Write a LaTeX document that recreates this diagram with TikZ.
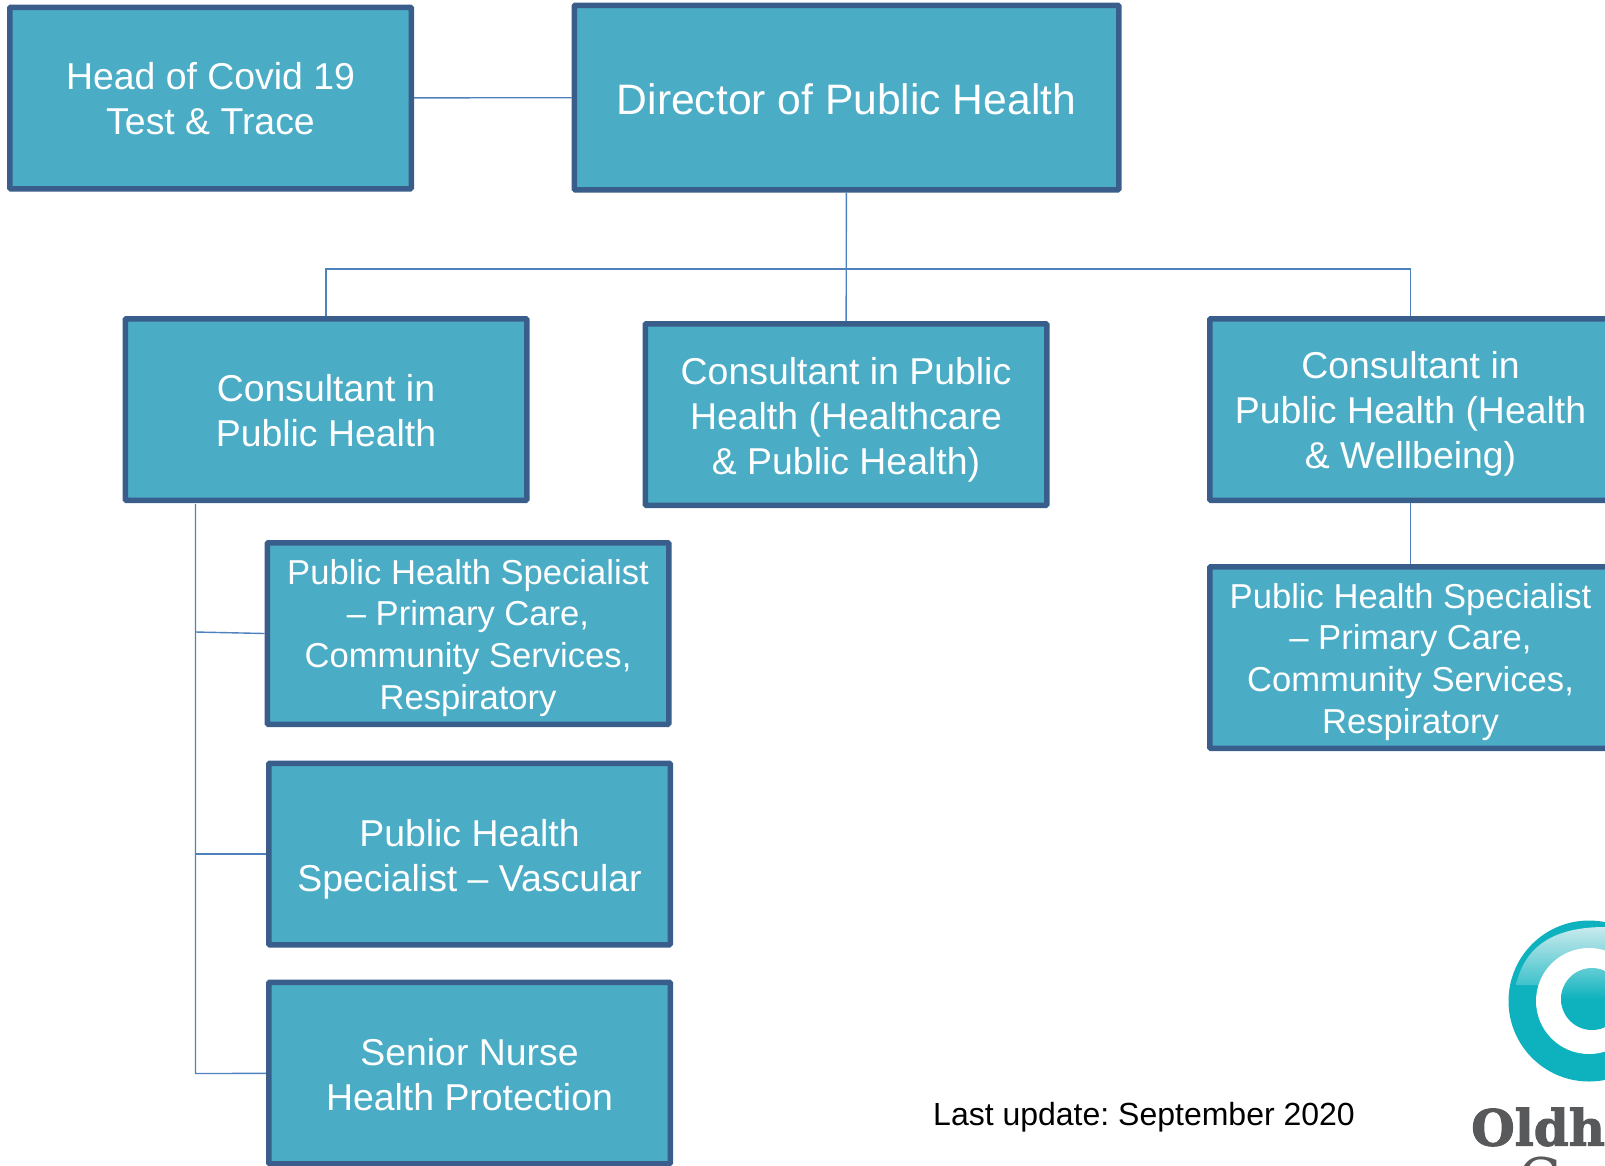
\documentclass[tikz,border=0pt]{standalone}
\usepackage{fontspec}
\setmainfont{Liberation Sans}
\newfontfamily\logofont{DejaVu Serif}
\newfontfamily\logoheavy[FakeBold=2]{DejaVu Serif Bold}
\definecolor{myboxfill}{RGB}{75,172,198}
\definecolor{myboxline}{RGB}{58,94,139}
\definecolor{mylink}{RGB}{79,129,189}
\definecolor{mylogo}{RGB}{14,178,190}
\definecolor{mylogolight}{RGB}{200,234,237}
\definecolor{mylogotext}{RGB}{88,89,91}
\newcommand{\widthbox}{401.5pt}
\newcommand{\heightbox}{181.5pt}
\newcommand{\droptext}[2]{\raisebox{-#1}[\height][\depth]{\begin{tabular}{@{}c@{}}#2\end{tabular}}}
\tikzset{
    common/.style={draw=myboxline, fill=myboxfill, rectangle, line width=5.5pt, rounded corners=1pt,
        text=white, align=center, inner sep=0pt},
    bigbox/.style={common, minimum width=\widthbox, minimum height=\heightbox, font=\fontsize{37.4}{45}\selectfont},
    smallbox/.style={common, minimum width=\widthbox, minimum height=\heightbox, font=\fontsize{34.6}{41.8}\selectfont},
    link/.style={draw=mylink, line width=1.4pt}
}

\begin{document}
\frenchspacing
\begin{tikzpicture}[x=1pt, y=-1pt]
    \clip (0,0) rectangle (1605,1165);
    \useasboundingbox (0,0) rectangle (1605,1165);

    \node[bigbox] (head) at (210.5,98) {\droptext{5pt}{Head of Covid 19\\Test \& Trace}};
    \node[bigbox, minimum width=544.5pt, minimum height=184.5pt, font=\fontsize{42.6}{50}\selectfont] (director) at (846.5,97.5) {\droptext{7pt}{Director of Public Health}};

    \node[bigbox] (consA) at (326,409.5) {\droptext{5pt}{Consultant in\\Public Health}};
    \node[bigbox] (consB) at (846,414.5) {\droptext{5.5pt}{Consultant in Public\\Health (Healthcare\\\& Public Health)}};
    \node[bigbox] (consC) at (1410.5,409.5) {\droptext{5pt}{Consultant in\\Public Health (Health\\\& Wellbeing)}};

    \node[smallbox] (specA) at (468,633.5) {\droptext{5pt}{Public Health Specialist\\– Primary Care,\\Community Services,\\Respiratory}};
    \node[bigbox] (specB) at (469.5,854) {\droptext{6pt}{Public Health\\Specialist – Vascular}};
    \node[bigbox] (nurse) at (469.5,1073) {\droptext{6pt}{Senior Nurse\\Health Protection}};
    \node[smallbox] (specC) at (1410.5,657.5) {\droptext{5pt}{Public Health Specialist\\– Primary Care,\\Community Services,\\Respiratory}};

    \coordinate (busL) at (consA.north |- 0,269);
    \coordinate (busR) at (consC.north |- 0,269);
    \coordinate (spineTop) at (195.5,504);
    \coordinate (spineA) at (195.5,632);
    \coordinate (spineB) at (195.5,854);
    \coordinate (spineC) at (195.5,1073.5);

    \draw[link] (head) -- (director);
    \draw[link] (director) -- (consB);
    \draw[link] (consA) -- (busL) -- (busR) -- (consC);
    \draw[link] (consC) -- (specC);
    \draw[link] (spineTop) -- (spineC) -- (nurse);
    \draw[link] (spineA) -- (specA.west);
    \draw[link] (spineB) -- (specB);

    \node[anchor=west, inner sep=0pt, font=\fontsize{32}{38}\selectfont] (updated) at (933,1117) {Last update: September 2020};

    % logo
    \fill[mylogo] (1589,1001) circle (80.5);
    \shade[top color=mylogolight, bottom color=mylogo!80!white] (1516,985) .. controls (1525,945) and (1555,927) .. (1605,927) -- (1605,985) -- cycle;
    \fill[white] (1589,1001) circle (53);
    \shade[top color=mylogo!65!white, bottom color=mylogo, middle color=mylogo] (1592,999) circle (31);
    \node[anchor=west, inner sep=0pt, text=mylogotext, font=\logoheavy\fontsize{50}{52}\selectfont] (logoname) at (1471,1127) {Oldham};
    \node[anchor=north west, inner sep=0pt, text=mylogotext, font=\logofont\fontsize{56}{56}\selectfont] (logosub) at (1518,1156) {Council};
\end{tikzpicture}
\end{document}
